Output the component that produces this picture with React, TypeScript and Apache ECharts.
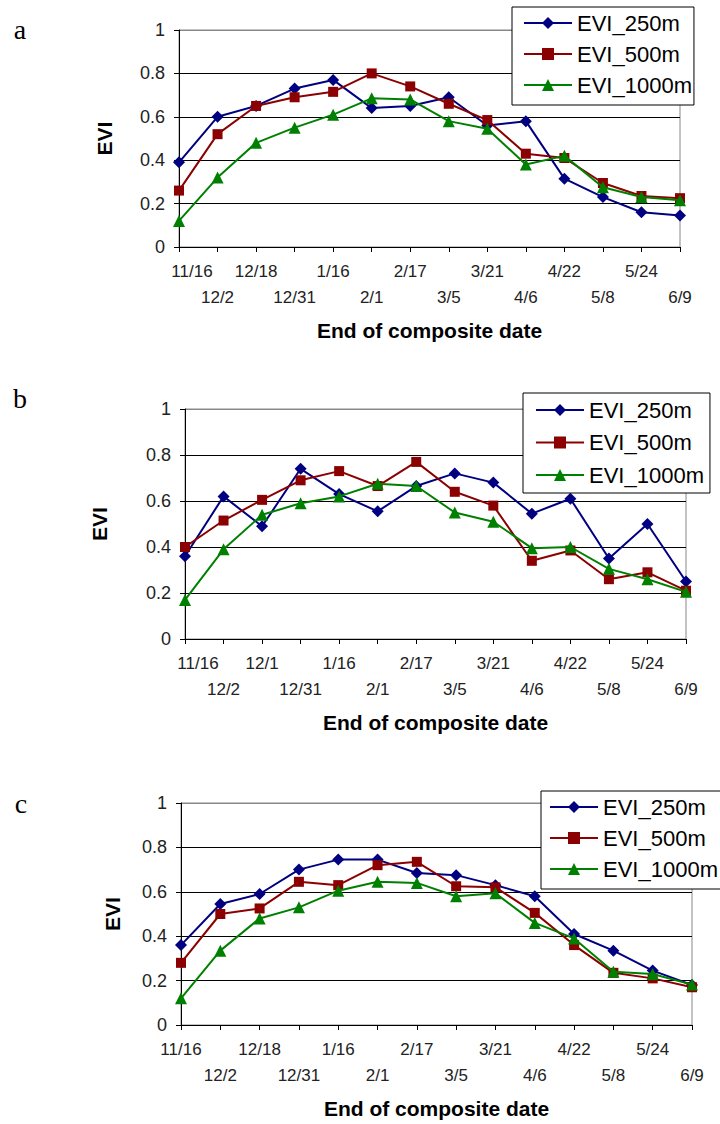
import React, { useEffect, useRef } from 'react';
import * as echarts from 'echarts';

// Category (tick) labels: end of composite date
const datesA = ['11/16', '12/2', '12/18', '12/31', '1/16', '2/1', '2/17', '3/5', '3/21', '4/6', '4/22', '5/8', '5/24', '6/9'];
const datesB = ['11/16', '12/2', '12/1', '12/31', '1/16', '2/1', '2/17', '3/5', '3/21', '4/6', '4/22', '5/8', '5/24', '6/9'];
const datesC = ['11/16', '12/2', '12/18', '12/31', '1/16', '2/1', '2/17', '3/5', '3/21', '4/6', '4/22', '5/8', '5/24', '6/9'];

// Panel a
const evi250A = [0.39, 0.60, 0.65, 0.73, 0.77, 0.64, 0.65, 0.69, 0.56, 0.58, 0.315, 0.23, 0.16, 0.145];
const evi500A = [0.26, 0.52, 0.65, 0.69, 0.715, 0.80, 0.74, 0.66, 0.585, 0.43, 0.41, 0.295, 0.235, 0.225];
const evi1000A = [0.12, 0.32, 0.48, 0.55, 0.61, 0.685, 0.68, 0.58, 0.545, 0.38, 0.42, 0.275, 0.23, 0.215];

// Panel b
const evi250B = [0.36, 0.62, 0.49, 0.74, 0.63, 0.555, 0.665, 0.72, 0.68, 0.545, 0.61, 0.35, 0.50, 0.25];
const evi500B = [0.40, 0.515, 0.605, 0.69, 0.73, 0.665, 0.77, 0.64, 0.58, 0.34, 0.385, 0.26, 0.29, 0.21];
const evi1000B = [0.17, 0.39, 0.54, 0.59, 0.62, 0.675, 0.665, 0.55, 0.51, 0.395, 0.40, 0.305, 0.26, 0.205];

// Panel c
const evi250C = [0.36, 0.545, 0.59, 0.70, 0.745, 0.745, 0.685, 0.675, 0.63, 0.58, 0.41, 0.335, 0.245, 0.18];
const evi500C = [0.28, 0.50, 0.525, 0.645, 0.63, 0.72, 0.735, 0.625, 0.62, 0.505, 0.36, 0.235, 0.21, 0.17];
const evi1000C = [0.12, 0.335, 0.48, 0.53, 0.605, 0.645, 0.64, 0.58, 0.593, 0.46, 0.39, 0.24, 0.23, 0.182];

const seriesNames = ['EVI_250m', 'EVI_500m', 'EVI_1000m'];
const panelLetters = ['a', 'b', 'c'];
const yTitle = 'EVI';
const xTitle = 'End of composite date';

const FONT = '"Liberation Sans", Arial, Helvetica, sans-serif';
const SERIF = '"Liberation Serif", "Times New Roman", Times, serif';
const colors = ['#000080', '#8B0000', '#008000'];
const symbols = ['diamond', 'rect', 'triangle'];
const symbolSizes = [12, 10, 12];

const panels = [
  {
    dates: datesA,
    values: [evi250A, evi500A, evi1000A],
    grid: { left: 179, top: 30, width: 501, height: 217 },
    yNameGap: 64,
    shiftFirst: true,
    legend: { left: 512, top: 7, padding: [5, 2, 9, 11], itemGap: 9 },
    letter: { x: 20, y: 29 },
  },
  {
    dates: datesB,
    values: [evi250B, evi500B, evi1000B],
    grid: { left: 185, top: 409, width: 501, height: 230 },
    yNameGap: 75,
    shiftFirst: true,
    legend: { left: 523, top: 393, padding: [6, 6, 7, 12], itemGap: 10.5 },
    letter: { x: 20, y: 398 },
  },
  {
    dates: datesC,
    values: [evi250C, evi500C, evi1000C],
    grid: { left: 181, top: 803, width: 511, height: 222 },
    yNameGap: 58,
    shiftFirst: false,
    legend: { left: 541, top: 791, padding: [5, 4, 9, 8], itemGap: 9 },
    letter: { x: 21, y: 803 },
  },
];

export default function App() {
  const ref = useRef<HTMLDivElement | null>(null);

  useEffect(() => {
    document.body.style.margin = '0';
    if (!ref.current) return;
    const chart = echarts.init(ref.current, undefined, { renderer: 'svg' });

    const grids: any[] = [];
    const xAxes: any[] = [];
    const yAxes: any[] = [];
    const series: any[] = [];
    const legends: any[] = [];
    const graphics: any[] = [];

    panels.forEach((p, i) => {
      grids.push({
        ...p.grid,
        show: true,
        borderColor: '#888',
        borderWidth: 1,
        backgroundColor: 'transparent',
        containLabel: false,
      });
      xAxes.push({
        type: 'category',
        gridIndex: i,
        data: p.dates,
        boundaryGap: false,
        axisLine: { show: true, lineStyle: { color: '#000', width: 1 } },
        axisTick: { show: true, length: 5, interval: 0, lineStyle: { color: '#000' } },
        axisLabel: {
          interval: 0,
          hideOverlap: false,
          margin: 11,
          fontSize: 17,
          fontFamily: FONT,
          color: '#222',
          lineHeight: 26,
          formatter: (v: string, idx: number) => {
            if (idx === 0 && p.shiftFirst) return '{f|' + v + '}';
            return idx % 2 === 1 ? '\n' + v : v;
          },
          rich: {
            f: { padding: [0, 0, 0, 26], fontSize: 17, fontFamily: FONT, color: '#222', lineHeight: 26 },
          },
        },
        splitLine: { show: false },
        name: xTitle,
        nameLocation: 'middle',
        nameGap: 73,
        nameTextStyle: { fontSize: 21, fontWeight: 'bold', fontFamily: FONT, color: '#000' },
      });
      yAxes.push({
        type: 'value',
        gridIndex: i,
        min: 0,
        max: 1,
        interval: 0.2,
        axisLine: { show: true, lineStyle: { color: '#000', width: 1 } },
        axisTick: { show: true, length: 5, lineStyle: { color: '#000' } },
        axisLabel: { margin: 14, fontSize: 18, fontFamily: FONT, color: '#222' },
        splitLine: {
          show: true,
          lineStyle: { color: ['#000', '#000', '#000', '#000', '#000', '#888'], width: 1 },
        },
        name: yTitle,
        nameLocation: 'middle',
        nameGap: p.yNameGap,
        nameTextStyle: { fontSize: 21, fontWeight: 'bold', fontFamily: FONT, color: '#000' },
      });
      seriesNames.forEach((name, k) => {
        series.push({
          type: 'line',
          name,
          xAxisIndex: i,
          yAxisIndex: i,
          data: p.values[k],
          symbol: symbols[k],
          symbolSize: symbolSizes[k],
          showSymbol: true,
          lineStyle: { color: colors[k], width: 2 },
          itemStyle: { color: colors[k], borderWidth: 0 },
          z: 2 + k,
          emphasis: { disabled: true },
        });
      });
      legends.push({
        orient: 'vertical',
        left: p.legend.left,
        top: p.legend.top,
        padding: p.legend.padding,
        itemGap: p.legend.itemGap,
        itemWidth: 48,
        itemHeight: 15,
        data: seriesNames,
        selectedMode: false,
        backgroundColor: '#fff',
        borderColor: '#000',
        borderWidth: 1,
        borderRadius: 0,
        textStyle: { fontSize: 22, fontFamily: FONT, color: '#000', lineHeight: 22 },
      });
      graphics.push({
        type: 'text',
        x: p.letter.x,
        y: p.letter.y,
        style: {
          text: panelLetters[i],
          fontSize: 28,
          fontFamily: SERIF,
          fill: '#000',
          align: 'center',
          verticalAlign: 'middle',
        },
      });
    });

    chart.setOption({
      animation: false,
      backgroundColor: '#fff',
      grid: grids,
      xAxis: xAxes,
      yAxis: yAxes,
      series,
      legend: legends,
      graphic: graphics,
      tooltip: { show: false },
    });

    return () => {
      chart.dispose();
    };
  }, []);

  return <div ref={ref} style={{ width: 720, height: 1124 }} />;
}
